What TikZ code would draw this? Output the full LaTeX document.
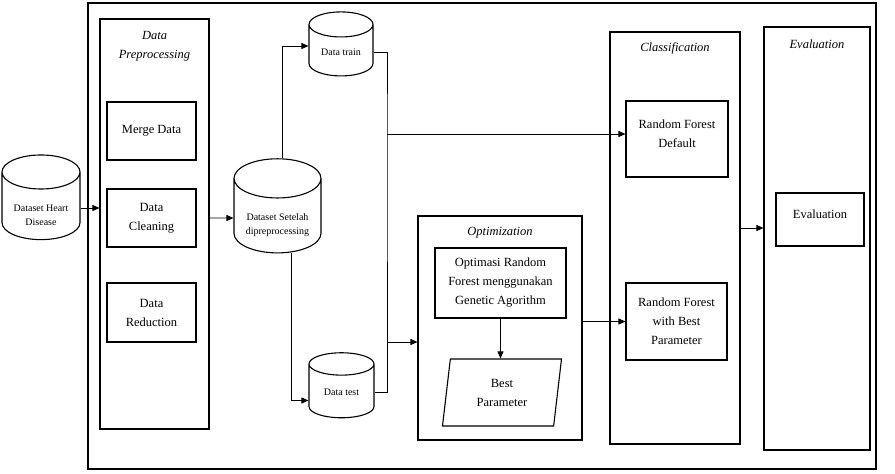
\documentclass[tikz,border=0pt]{standalone}
\usepackage{fontspec}
\setmainfont{Liberation Serif}
\usetikzlibrary{shapes.geometric,arrows.meta}
\begin{document}
\begin{tikzpicture}[x=1pt, y=-1pt, >={Triangle[length=7pt,width=6pt]},
main box/.style={rectangle,draw,line width=1.1pt,align=center,inner sep=2pt,font=\fontsize{12.5}{19}\selectfont},
group box/.style={rectangle,draw,line width=1.1pt},
group title/.style={align=center,font=\fontsize{12.5}{19}\selectfont\itshape},
data node/.style={cylinder,shape border rotate=90,draw,line width=1.1pt,aspect=0.6,align=center,inner sep=1pt,font=\fontsize{10}{14}\selectfont},
param node/.style={trapezium,trapezium left angle=77,trapezium right angle=103,trapezium stretches body,draw,line width=1.1pt,align=center,font=\fontsize{12.5}{19}\selectfont}]
\useasboundingbox (0,0) rectangle (895,474);
\node[group box,minimum width=788,minimum height=466] (frame) at (482,236) {};
% containers
\node[group box,minimum width=109,minimum height=410] (dp) at (154.5,224) {};%preprocessing
\node[group box,minimum width=164,minimum height=224] (opt) at (500,328) {};%optimization
\node[group box,minimum width=130,minimum height=412] (cls) at (675,238) {};%classification
\node[group box,minimum width=106,minimum height=423] (evo) at (817,238.5) {};%evaluation
\node[group title] (dptitle) at (154.5,46) {Data\\Preprocessing};
\node[group title] (opttitle) at (500,233) {Optimization};
\node[group title] (clstitle) at (675,48) {Classification};
\node[group title] (evotitle) at (817,44) {Evaluation};
% steps
\node[main box,minimum width=89,minimum height=58] (merge) at (151.5,131) {Merge Data};
\node[main box,minimum width=89,minimum height=58] (clean) at (151.5,218) {Data\\Cleaning};
\node[main box,minimum width=89,minimum height=59] (reduce) at (151.5,312.5) {Data\\Reduction};
\node[main box,minimum width=131,minimum height=70] (ga) at (500.5,283) {Optimasi Random\\Forest menggunakan\\Genetic Agorithm};
\node[param node,minimum width=119,minimum height=67] (bp) at (502,392.5) {Best\\Parameter};
\node[main box,minimum width=102,minimum height=76] (rfd) at (677,139) {Random Forest\\Default\\[-9pt]};
\node[main box,minimum width=101,minimum height=77] (rfb) at (676.5,321.5) {Random Forest\\with Best\\Parameter};
\node[main box,minimum width=88,minimum height=53] (ev) at (820,219.5) {Evaluation\\[-9pt]};
% data sets
\node[data node,minimum width=78,minimum height=82] (hd) at (41,208) {\strut\\[-3pt]Dataset Heart\\Disease};
\node[data node,minimum width=87,minimum height=90] (setelah) at (277.5,218) {\strut\\[-3pt]Dataset Setelah\\dipreprocessing};
\node[data node,minimum width=64,minimum height=64] (train) at (341,52) {Data train};
\node[data node,minimum width=65,minimum height=65] (test) at (341.5,392.5) {Data test};
\coordinate (jn) at (387,134);
\coordinate (jn2) at (387,342);
% connectors
\begin{scope}[line width=0.8pt]
\draw[->] (hd.east) -- (hd.east -| dp.west);
\draw[->] (dp.east |- setelah) -- (setelah.west);
\draw[->] ([xshift=4.5pt]setelah.north) |- ([yshift=6pt]train.west);
\draw[->] ([xshift=13.5pt]setelah.south) |- ([yshift=-8pt]test.west);
\draw (train.east) -| (jn) |- (test.east);
\draw[->] (jn) -- (jn -| rfd.west);
\draw[->] (jn2) -- (jn2 -| opt.west);
\draw[->] (ga.south) -- (ga.south |- bp.north);
\draw[->] (opt.east |- rfb) -- (rfb.west);
\draw[->] ([yshift=10pt]cls.east) -- ([yshift=10pt]cls.east -| evo.west);
\end{scope}
\end{tikzpicture}
\end{document}
